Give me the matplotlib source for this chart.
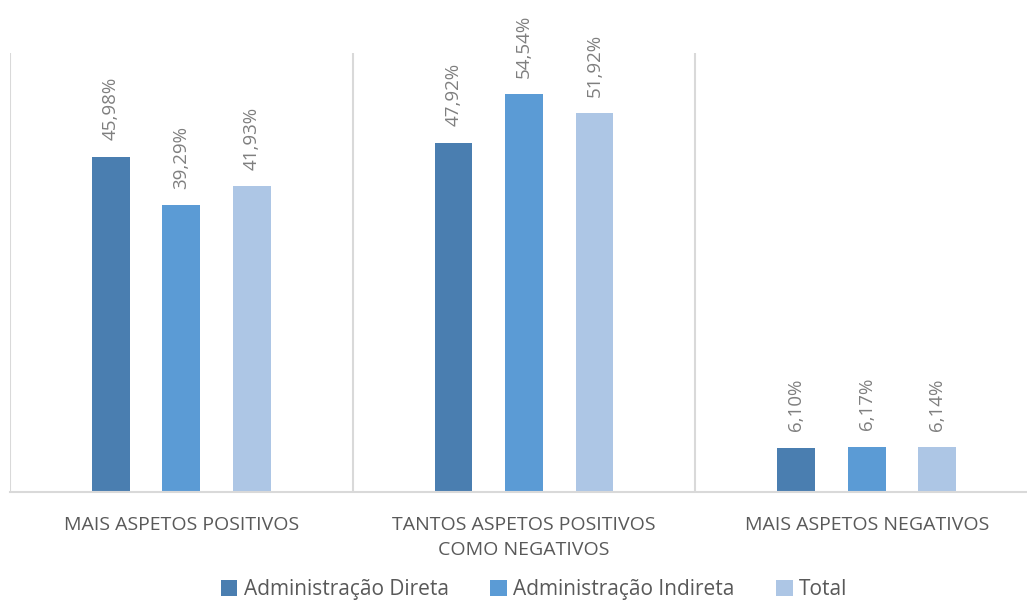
import numpy as np
import matplotlib.pyplot as plt

categories = ["MAIS ASPETOS POSITIVOS",
              "TANTOS ASPETOS POSITIVOS\nCOMO NEGATIVOS",
              "MAIS ASPETOS NEGATIVOS"]
series = ["Administração Direta", "Administração Indireta", "Total"]
direta = [45.98, 47.92, 6.10]
indireta = [39.29, 54.54, 6.17]
total = [41.93, 51.92, 6.14]
colors = ["#4a7eb0", "#5b9bd5", "#adc6e5"]

plt.rcParams['font.family'] = ['Open Sans', 'DejaVu Sans']

fig = plt.figure(figsize=(10.27, 6.01), dpi=100)
ax = fig.add_axes([10 / 1027, 109 / 601, 1028 / 1027, 439 / 601])

x = np.arange(len(categories))
width = 0.11
offset = 0.206
for i, (vals, name) in enumerate(zip([direta, indireta, total], series)):
    pos = x + (i - 1) * offset
    bars = ax.bar(pos, vals, width, color=colors[i], label=name, zorder=2)
    for b, v in zip(bars, vals):
        ax.annotate(("%.2f%%" % v).replace(".", ","),
                    (b.get_x() + b.get_width() / 2, v),
                    xytext=(0, 12), textcoords="offset points",
                    rotation=90, ha="center", va="bottom",
                    fontsize=13.5, color="#7f7f7f")

ax.set_xlim(-0.5, 2.5)
ax.set_ylim(0, 60.2)
ax.set_yticks([])
ax.set_xticks(x)
ax.set_xticklabels(categories, fontsize=14, color="#595959", linespacing=1.5)
ax.tick_params(axis="x", length=0, pad=17)
for s in ["top", "right", "left"]:
    ax.spines[s].set_visible(False)
ax.spines["bottom"].set_color("#d9d9d9")
ax.spines["bottom"].set_linewidth(1.5)
for sep in [-0.5, 0.5, 1.5]:
    ax.axvline(sep, color="#d9d9d9", lw=1.5, zorder=1)

leg = fig.legend(loc="lower center", bbox_to_anchor=(0.52, -0.03), ncol=3,
                 frameon=False, fontsize=15, handlelength=0.8,
                 handleheight=0.8, handletextpad=0.3, columnspacing=2.0)
for t in leg.get_texts():
    t.set_color("#595959")

fig.savefig("out.png", dpi=100)
